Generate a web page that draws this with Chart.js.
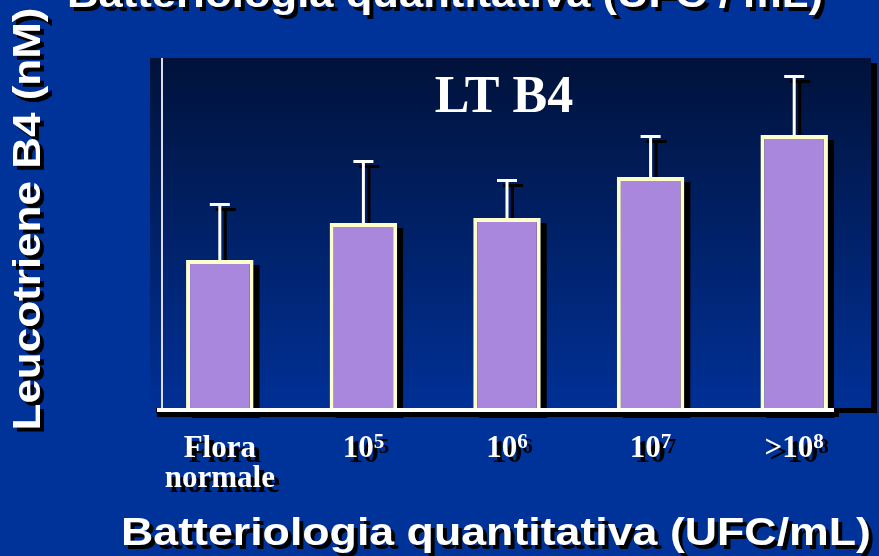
<!DOCTYPE html>
<html>
<head>
<meta charset="utf-8">
<script src="https://cdn.jsdelivr.net/npm/chart.js@4.4.0/dist/chart.umd.min.js"></script>
<style>
html, body { margin: 0; padding: 0; background: #003399; }
canvas { display: block; }
</style>
</head>
<body>
<canvas id="myChart" width="879" height="556"></canvas>
<script>
// values (arbitrary units, y axis has no labels)
const categories = ['Flora\nnormale', '10^5', '10^6', '10^7', '>10^8'];
const ltb4Values = [1.48, 1.85, 1.90, 2.31, 2.73];
const ltb4Errors = [0.56, 0.62, 0.38, 0.41, 0.59];
const yMin = 0;
const yMax = 3.5;
const chartTitle = 'LT B4';
const yTitle = 'Leucotriene B4 (nM)';
const xTitle = 'Batteriologia quantitativa (UFC/mL)';
const topTitle = 'Batteriologia quantitativa (UFC / mL)';

const sansBold = 'bold 39px "Liberation Sans", Arial, sans-serif';
const serifBold = '"Liberation Serif", "Times New Roman", serif';

function shadowText(ctx, text, x, y, off) {
    ctx.fillStyle = '#000';
    ctx.fillText(text, x + off, y + off);
    ctx.fillStyle = '#fff';
    ctx.fillText(text, x, y);
}

// text squeezed/stretched horizontally to a given width
function stretchedText(ctx, text, x, y, width, off) {
    ctx.save();
    ctx.font = sansBold;
    ctx.textAlign = 'left';
    ctx.textBaseline = 'alphabetic';
    const k = width / ctx.measureText(text).width;
    for (let pass = 0; pass < 2; pass++) {
        ctx.save();
        const d = pass === 0 ? off : 0;
        ctx.translate(x + d, y + d);
        ctx.scale(k, 1);
        ctx.fillStyle = pass === 0 ? '#000' : '#fff';
        ctx.fillText(text, 0, 0);
        ctx.restore();
    }
    ctx.restore();
}

const decor = {
    id: 'decor',
    beforeDraw(chart) {
        const ctx = chart.ctx;
        const a = chart.chartArea;
        ctx.save();
        ctx.fillStyle = '#003399';
        ctx.fillRect(0, 0, chart.width, chart.height);
        // plot box with shadow
        const bx = a.left + 2, by = a.top, bw = a.right + 5 - bx, bh = a.bottom - by;
        ctx.fillStyle = '#000';
        ctx.fillRect(bx + 6, by + 5, bw, bh);
        const g = ctx.createLinearGradient(0, by, 0, by + bh);
        g.addColorStop(0, '#00123a');
        g.addColorStop(1, '#003096');
        ctx.fillStyle = g;
        ctx.fillRect(bx, by, bw, bh);
        ctx.restore();
    },
    beforeDatasetsDraw(chart) {
        const ctx = chart.ctx;
        const a = chart.chartArea;
        const ys = chart.scales.y;
        const base = ys.getPixelForValue(0);
        const bars = chart.getDatasetMeta(0).data;
        ctx.save();
        // y axis line
        ctx.strokeStyle = '#dcdcec';
        ctx.lineWidth = 2;
        ctx.beginPath();
        ctx.moveTo(a.left + 14, a.top);
        ctx.lineTo(a.left + 14, base);
        ctx.stroke();
        // shadows
        ctx.fillStyle = '#000';
        ctx.fillRect(a.left + 9, base + 4, a.right - 32 - (a.left + 9) + 5, 5);
        bars.forEach((bar, i) => {
            const top = ys.getPixelForValue(ltb4Values[i] + ltb4Errors[i]);
            ctx.fillRect(bar.x - bar.width / 2 + 6, bar.y + 5, bar.width, bar.base - bar.y + 5);
            ctx.fillRect(bar.x + 4, top + 5, 3, bar.y - top);
            ctx.fillRect(bar.x - 10 + 6, top + 4, 20, 3);
        });
        ctx.restore();
    },
    afterDatasetsDraw(chart) {
        const ctx = chart.ctx;
        const a = chart.chartArea;
        const ys = chart.scales.y;
        const base = ys.getPixelForValue(0);
        const bars = chart.getDatasetMeta(0).data;
        ctx.save();
        ctx.fillStyle = '#fff';
        bars.forEach((bar, i) => {
            const top = ys.getPixelForValue(ltb4Values[i] + ltb4Errors[i]);
            ctx.fillRect(bar.x - 1.5, top, 3, bar.y - top);
            ctx.fillRect(bar.x - 10, top - 1, 20, 3);
        });
        // base line
        ctx.fillRect(a.left + 9, base, a.right - 32 - (a.left + 9), 4);
        ctx.restore();
    },
    afterDraw(chart) {
        const ctx = chart.ctx;
        const xs = chart.scales.x;
        ctx.save();
        // title inside the plot
        ctx.font = 'bold 52px ' + serifBold;
        ctx.textAlign = 'center';
        ctx.textBaseline = 'alphabetic';
        ctx.fillStyle = '#fff';
        ctx.fillText(chartTitle, 504, 112);

        // category labels with superscripts
        ctx.textAlign = 'left';
        categories.forEach((label, i) => {
            const cx = xs.getPixelForValue(i);
            label.split('\n').forEach((line, j) => {
                const y = 457 + j * 30;
                const parts = line.split('^');
                ctx.font = 'bold 31px ' + serifBold;
                const wb = ctx.measureText(parts[0]).width;
                let ws = 0;
                if (parts[1]) {
                    ctx.font = 'bold 21px ' + serifBold;
                    ws = ctx.measureText(parts[1]).width;
                }
                const x0 = cx - (wb + ws) / 2;
                ctx.font = 'bold 31px ' + serifBold;
                shadowText(ctx, parts[0], x0, y, 5);
                if (parts[1]) {
                    ctx.font = 'bold 21px ' + serifBold;
                    shadowText(ctx, parts[1], x0 + wb, y - 9, 5);
                }
            });
        });
        ctx.restore();

        // axis titles
        stretchedText(ctx, xTitle, 121, 545, 750, 4);
        stretchedText(ctx, topTitle, 67, 7, 756, 4);

        ctx.save();
        ctx.font = sansBold.replace('39px', '38px');
        ctx.textAlign = 'center';
        ctx.textBaseline = 'alphabetic';
        const k = 423 / ctx.measureText(yTitle).width;
        for (let pass = 0; pass < 2; pass++) {
            ctx.save();
            const d = pass === 0 ? 4 : 0;
            ctx.translate(40 + d, 219 + d);
            ctx.rotate(-Math.PI / 2);
            ctx.scale(k, 1);
            ctx.fillStyle = pass === 0 ? '#000' : '#fff';
            ctx.fillText(yTitle, 0, 0);
            ctx.restore();
        }
        ctx.restore();
    }
};

const ctx = document.getElementById('myChart').getContext('2d');
const myChart = new Chart(ctx, {
    type: 'bar',
    data: {
        labels: categories,
        datasets: [{
            label: chartTitle,
            data: ltb4Values,
            backgroundColor: '#a987dd',
            borderColor: '#ffffcc',
            borderWidth: 4,
            barPercentage: 0.47,
            categoryPercentage: 1.0
        }]
    },
    options: {
        responsive: false,
        animation: false,
        layout: {
            padding: { left: 148, right: 13, top: 58, bottom: 148 }
        },
        scales: {
            x: { display: false, offset: true },
            y: { display: false, min: yMin, max: yMax }
        },
        plugins: {
            legend: { display: false },
            tooltip: { enabled: false }
        }
    },
    plugins: [decor]
});
</script>
</body>
</html>
